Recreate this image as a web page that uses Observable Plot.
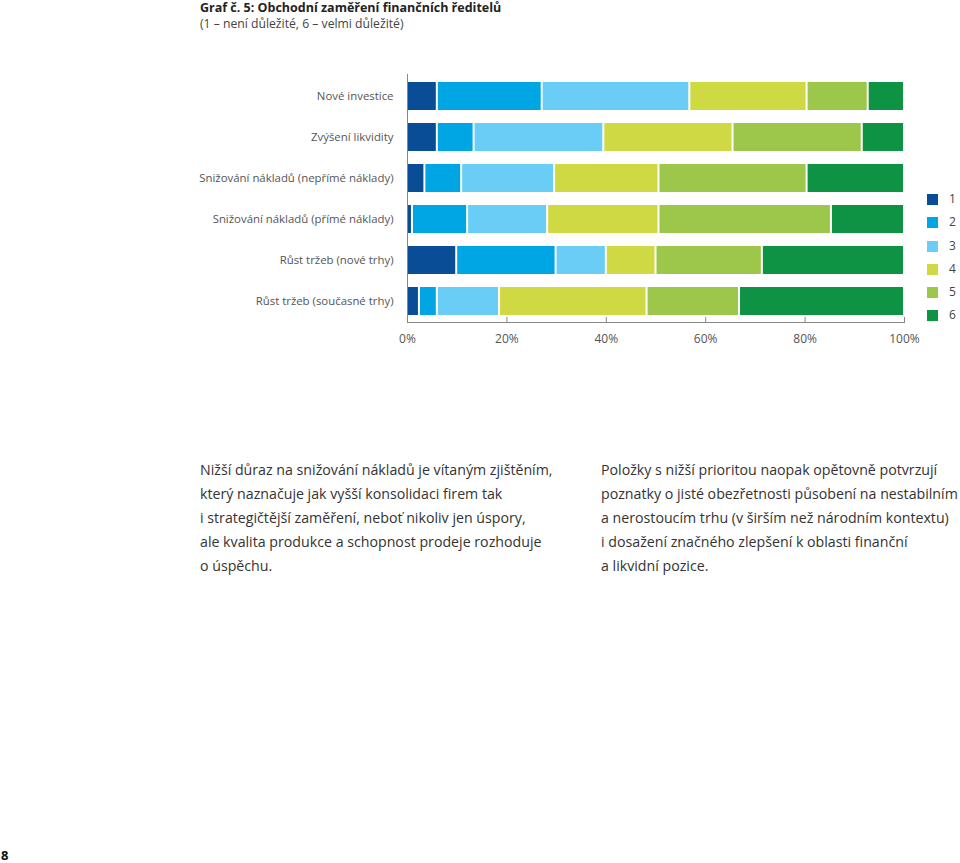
<!DOCTYPE html>
<html>
<head>
<meta charset="utf-8">
<script src="https://cdn.jsdelivr.net/npm/d3@7"></script>
<script src="https://cdn.jsdelivr.net/npm/@observablehq/plot@0.6"></script>
<style>
  html, body { margin: 0; padding: 0; background: #fff; }
  body { width: 960px; height: 863px; position: relative; overflow: hidden; font-family: "Open Sans", "Noto Sans", sans-serif; }
  #title { position: absolute; left: 200px; top: 1px; line-height: 13px; font-size: 12.5px; font-weight: bold; color: #222; white-space: nowrap; }
  #subtitle { position: absolute; left: 200px; top: 16.5px; line-height: 13px; font-size: 12.2px; color: #444; white-space: nowrap; }
  #chart { position: absolute; left: 0; top: 0; }
  #legend { position: absolute; left: 927px; top: 192px; }
  .lg { position: relative; height: 23.3px; font-size: 12px; color: #444; }
  .lg span.sw { position: absolute; left: 0; top: 2px; width: 11px; height: 11px; }
  .lg span.tx { position: absolute; left: 22px; top: -2px; }
  .col { position: absolute; top: 458px; font-size: 14.2px; line-height: 24px; color: #333; white-space: nowrap; }
  #page { position: absolute; left: 1px; top: 848px; line-height: 15px; font-size: 13px; font-weight: bold; color: #111; }
</style>
</head>
<body>
<div id="title">Graf č. 5: Obchodní zaměření finančních ředitelů</div>
<div id="subtitle">(1 – není důležité, 6 – velmi důležité)</div>
<div id="chart"></div>
<div id="legend"></div>
<div class="col" style="left:200px">Nižší důraz na snižování nákladů je vítaným zjištěním,<br>který naznačuje jak vyšší konsolidaci firem tak<br>i strategičtější zaměření, neboť nikoliv jen úspory,<br>ale kvalita produkce a schopnost prodeje rozhoduje<br>o úspěchu.</div>
<div class="col" style="left:601px">Položky s nižší prioritou naopak opětovně potvrzují<br>poznatky o jisté obezřetnosti působení na nestabilním<br>a nerostoucím trhu (v širším než národním kontextu)<br>i dosažení značného zlepšení k oblasti finanční<br>a likvidní pozice.</div>
<div id="page">8</div>
<script>
const categories = [
  "Nové investice",
  "Zvýšení likvidity",
  "Snižování nákladů (nepřímé náklady)",
  "Snižování nákladů (přímé náklady)",
  "Růst tržeb (nové trhy)",
  "Růst tržeb (současné trhy)"
];
const levels = ["1", "2", "3", "4", "5", "6"];
const level1 = [6.0, 6.0, 3.5, 1.0, 9.9, 2.4];
const level2 = [21.1, 7.4, 7.4, 11.1, 20.0, 3.6];
const level3 = [29.7, 26.1, 18.7, 16.1, 10.1, 12.5];
const level4 = [23.6, 26.0, 21.0, 22.4, 10.0, 29.7];
const level5 = [12.3, 26.0, 29.8, 34.7, 21.4, 18.6];
const level6 = [7.3, 8.5, 19.6, 14.7, 28.6, 33.2];
const colors = ["#0a4d97", "#00a5e3", "#6acdf5", "#cfd943", "#9cc74b", "#0d9343"];
const xTicks = [0, 0.2, 0.4, 0.6, 0.8, 1];

const series = [level1, level2, level3, level4, level5, level6];
const rows = [];
categories.forEach((c, i) => {
  levels.forEach((l, j) => rows.push({category: c, level: l, value: series[j][i]}));
});

const chart = Plot.plot({
  width: 960,
  height: 360,
  marginLeft: 407,
  marginRight: 56,
  marginTop: 74,
  marginBottom: 38,
  style: {fontFamily: "'Open Sans', 'Noto Sans', sans-serif", fontSize: "12px", color: "#555", background: "transparent"},
  x: {domain: [0, 1]},
  y: {domain: categories, paddingInner: 0.32, paddingOuter: 0.17},
  color: {domain: levels, range: colors},
  marks: [
    Plot.barX(rows, Plot.stackX({
      y: "category",
      x: "value",
      fill: "level",
      order: levels,
      offset: "normalize",
      insetLeft: 1,
      insetRight: 1
    })),
    Plot.axisY({tickSize: 0, tickPadding: 14, label: null, fill: "#555", fontSize: 11.4}),
    Plot.axisX({ticks: xTicks, tickSize: -5, label: null, text: null, stroke: "#888"}),
    Plot.axisX({ticks: xTicks, tickSize: 0, tickPadding: 12, tickFormat: d3.format(".0%"), label: null, fill: "#555"}),
    Plot.ruleX([0], {stroke: "#888"}),
    Plot.frame({anchor: "bottom", stroke: "#888"})
  ]
});
document.getElementById("chart").appendChild(chart);

const lg = document.getElementById("legend");
levels.forEach((l, i) => {
  const d = document.createElement("div");
  d.className = "lg";
  d.innerHTML = `<span class="sw" style="background:${colors[i]}"></span><span class="tx">${l}</span>`;
  lg.appendChild(d);
});
</script>
</body>
</html>
